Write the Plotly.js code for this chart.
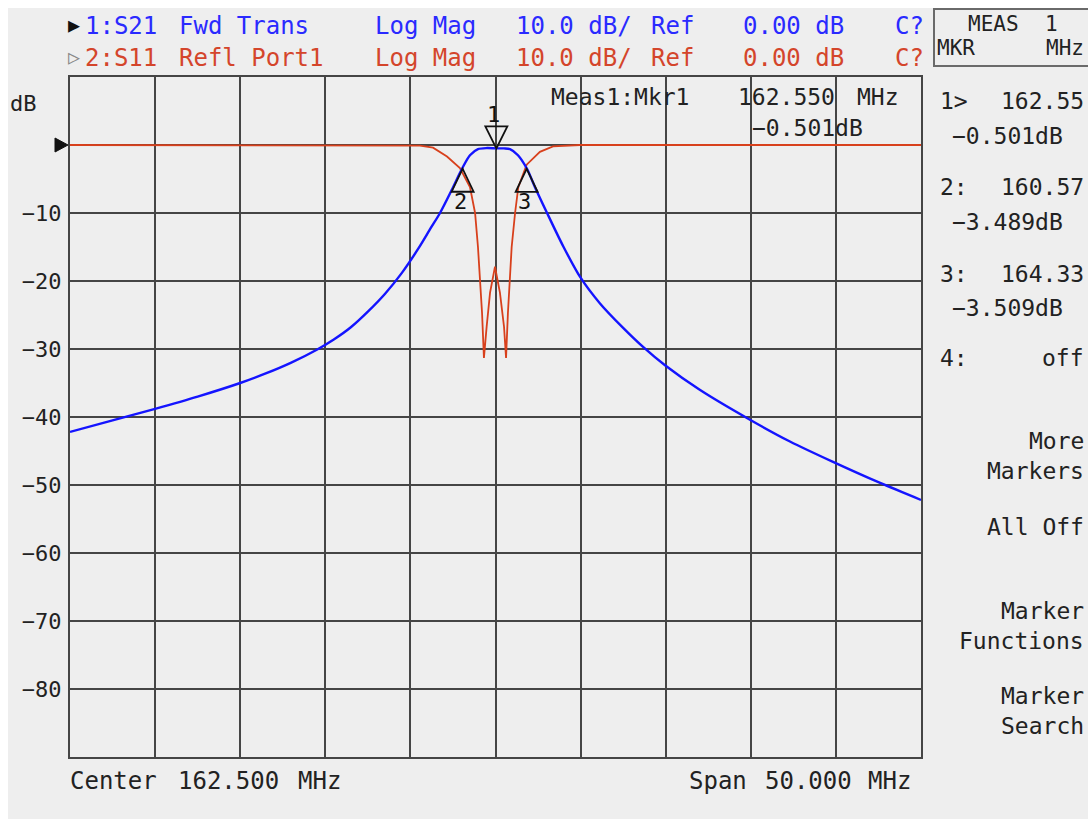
<!DOCTYPE html>
<html>
<head>
<meta charset="utf-8">
<script src="https://cdn.plot.ly/plotly-3.0.1.min.js"></script>
<style>html,body{margin:0;padding:0;background:#fff;}#chart{width:1088px;height:819px;}</style>
</head>
<body>
<div id="chart"></div>
<script>
// ---- data ----
const s21Freq = [137.5,140.0,142.5,145.0,147.5,149.0,150.5,152.0,153.0,154.0,155.0,156.0,157.0,158.0,158.7,159.24,159.95,160.53,161.0,161.47,162.0,162.55,163.0,163.35,163.82,164.35,164.82,165.53,166.5,167.47,168.64,170.0,171.17,172.46,174.5,177.45,179.8,182.33,185.1,187.5];
const s21Db   = [-42.2,-40.5,-38.8,-37.0,-35.0,-33.6,-32.0,-30.1,-28.6,-26.8,-24.5,-21.9,-18.8,-15.1,-12.2,-10.0,-6.5,-3.5,-1.5,-0.6,-0.45,-0.5,-0.5,-0.6,-1.5,-3.5,-6.2,-10.0,-15.0,-19.4,-23.3,-26.9,-29.7,-32.4,-36.0,-40.4,-43.6,-46.6,-49.7,-52.2];

const s11Freq = [137.5,156.7,158.06,158.83,159.65,160.41,161.0,161.3,161.47,161.71,161.82,161.98,162.18,162.47,162.76,163.0,163.12,163.23,163.45,163.65,163.84,164.33,165.11,165.88,167.46,187.5];
const s11Db   = [0,0,-0.1,-0.4,-1.7,-3.4,-6.2,-10,-15,-24.7,-31.3,-26.7,-21.7,-17.9,-21.7,-26.7,-31.3,-24.7,-15,-10,-6.2,-2.9,-1.0,-0.2,0,0];

const mkrNames = ['1','2','3'];
const mkrFreq  = [162.55,160.57,164.33];
const mkrDb    = [-0.501,-3.489,-3.509];
const mkrFreqText = ['162.550','160.570','164.330'];
const mkrDbText   = ['−0.501dB','−3.489dB','−3.509dB'];

const yTickVals = [0,-10,-20,-30,-40,-50,-60,-70,-80];
const yTickText = ['','−10','−20','−30','−40','−50','−60','−70','−80'];

const centerMHz = 162.5, spanMHz = 50;

// ---- helpers: page pixel -> paper coords ----
const L=70, R=921, T=77, B=757;
const X = px => (px-L)/(R-L);
const Y = py => (B-py)/(B-T);
const MONO = 'DejaVu Sans Mono';
const BLUE_T = '#2a2aff', RED_T = '#d4452b';

const ann = [];
function txt(text, px, py, color, size, anchor){
  ann.push({text:text, xref:'paper', yref:'paper', x:X(px), y:Y(py), xanchor:anchor||'left', yanchor:'middle',
    showarrow:false, font:{family:MONO, size:size, color:color}});
}
// header lines
txt('▶', 66, 25, '#111', 20);
[['1:S21',83],['Fwd Trans',177],['Log Mag',373],['10.0 dB/',514],['Ref',649],['0.00 dB',741],['C?',893]]
  .forEach(s=>txt(s[0], s[1], 26, BLUE_T, 24));
txt('▷', 66, 57, '#888', 20);
[['2:S11',83],['Refl Port1',177],['Log Mag',373],['10.0 dB/',514],['Ref',649],['0.00 dB',741],['C?',893]]
  .forEach(s=>txt(s[0], s[1], 58, RED_T, 24));
// bottom
txt('Center', 68, 781, '#222', 24); txt(centerMHz.toFixed(3), 176, 781, '#222', 24); txt('MHz', 296, 781, '#222', 24);
txt('Span', 687, 781, '#222', 24); txt(spanMHz.toFixed(3), 763, 781, '#222', 24); txt('MHz', 866, 781, '#222', 24);
// dB unit
txt('dB', 8, 104, '#222', 22);
// active marker readout in plot
txt('Meas1:Mkr1', 549, 97, '#222', 23);
txt(mkrFreqText[0], 736, 97, '#222', 23); txt('MHz', 855, 97, '#222', 23);
txt(mkrDbText[0], 750, 128, '#222', 23);
// right panel (the instrument's softkey area is cut at the picture's right edge)
const RE = 1086;
txt('MEAS', 966, 24, '#222', 21); txt('1', 1043, 24, '#222', 21);
txt('MKR', 935, 48, '#222', 21); txt('MHz', RE, 48, '#222', 21, 'right');
const rowY = [[101,136],[187,222],[274,308]];
for(let i=0;i<3;i++){
  txt(mkrNames[i] + (i===0?'>':':'), 938, rowY[i][0], '#222', 23);
  txt(mkrFreqText[i].slice(0,6), RE, rowY[i][0], '#222', 23, 'right');
  txt(mkrDbText[i], 950, rowY[i][1], '#222', 23);
}
txt('4:', 938, 358, '#222', 23); txt('off', RE, 358, '#222', 23, 'right');
[['More',441],['Markers',471],['All Off',527],['Marker',611],['Functions',641],['Marker',696],['Search',726]]
  .forEach(s=>txt(s[0], RE, s[1], '#222', 23, 'right'));

// marker number labels
for(let i=0;i<3;i++){
  ann.push({text:mkrNames[i], x:mkrFreq[i], y:mkrDb[i], xref:'x', yref:'y', showarrow:false,
    yshift: i===0 ? 34 : -33, xshift: i===0 ? -3 : -2,
    font:{family:MONO, size:22, color:'#111'}});
}

const shapes = [
  {type:'rect', xref:'paper', yref:'paper', x0:X(-5), x1:X(1100), y0:Y(0), y1:Y(8), fillcolor:'#ffffff', line:{width:0}, layer:'below'},
  {type:'rect', xref:'paper', yref:'paper', x0:X(-5), x1:X(8), y0:Y(-5), y1:Y(830), fillcolor:'#ffffff', line:{width:0}, layer:'below'},
  {type:'rect', xref:'paper', yref:'paper', x0:X(934), x1:X(1100), y0:Y(66), y1:Y(9), line:{color:'#6a6a6a', width:2}},
  // reference level arrow
  {type:'path', xref:'paper', yref:'y', xsizemode:'pixel', ysizemode:'pixel', xanchor:0, yanchor:0,
   path:'M-15,7 L-2,0 L-15,-7 Z', fillcolor:'#111', line:{color:'#111', width:1}}
];
for(let i=0;i<3;i++){
  const p = i===0 ? 'M0,0 L-11,22 L11,22 Z' : 'M0,0 L-11,-23 L11,-23 Z';
  shapes.push({type:'path', xref:'x', yref:'y', xsizemode:'pixel', ysizemode:'pixel', xanchor:mkrFreq[i], yanchor:mkrDb[i],
    path:p, line:{color:'#111', width:1.8}});
}

const traces = [
  {x:s11Freq, y:s11Db, type:'scatter', mode:'lines', line:{color:'#d8401c', width:1.8}, hoverinfo:'skip'},
  {x:s21Freq, y:s21Db, type:'scatter', mode:'lines', line:{color:'#1414ff', width:2.4, shape:'spline', smoothing:0.8}, hoverinfo:'skip'}
];

const layout = {
  width:1088, height:819, showlegend:false,
  margin:{l:L, r:1088-R, t:T, b:819-B, pad:0},
  paper_bgcolor:'#eeeeee', plot_bgcolor:'#eeeeee',
  xaxis:{range:[centerMHz-spanMHz/2, centerMHz+spanMHz/2], dtick:5, tick0:137.5, showticklabels:false, ticks:'',
    showgrid:true, gridcolor:'#454545', gridwidth:2, zeroline:false, showline:true, mirror:true, linecolor:'#454545', linewidth:2, fixedrange:true},
  yaxis:{range:[-90,10], tickvals:yTickVals, ticktext:yTickText, ticks:'', ticklabelstandoff:2,
    tickfont:{family:MONO, size:22, color:'#222'},
    showgrid:true, gridcolor:'#454545', gridwidth:2, zeroline:false, showline:true, mirror:true, linecolor:'#454545', linewidth:2, fixedrange:true},
  annotations: ann, shapes: shapes
};
Plotly.newPlot('chart', traces, layout, {staticPlot:true, displayModeBar:false});
</script>
</body>
</html>
